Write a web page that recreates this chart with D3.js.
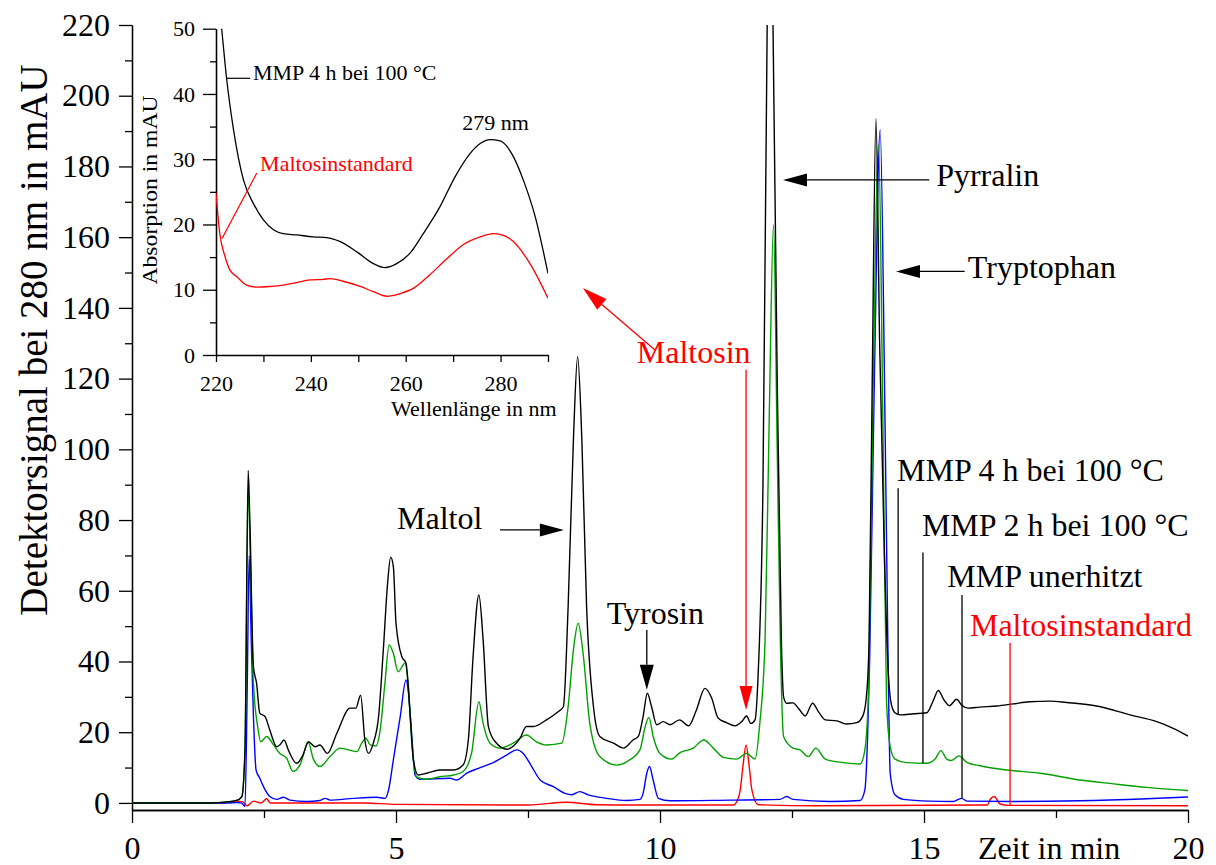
<!DOCTYPE html>
<html>
<head>
<meta charset="utf-8">
<script src="https://cdn.jsdelivr.net/npm/d3@7"></script>
<style>
  body { margin: 0; background: #fff; }
  svg text { font-family: "Liberation Serif", "Times New Roman", serif; }
</style>
</head>
<body>
<svg id="chart" width="1216" height="865" font-family="Liberation Serif, Times New Roman, serif"></svg>
<script>
// ---- Chromatogram traces: [retention time in min, signal in mAU] ----
const mmp4h = [[0,0],[1.5,0],[1.8,0.3],[1.98,0.7],[2.08,1.8],[2.14,15],[2.20,94],[2.23,81],[2.30,38.5],[2.36,33.8],[2.42,25.4],[2.52,24.4],[2.61,20.6],[2.74,15.9],[2.80,16.4],[2.88,17.8],[2.96,15],[3.12,11.2],[3.24,13.6],[3.34,17.3],[3.47,15.9],[3.56,16.4],[3.70,14],[3.88,19.7],[4.13,26.8],[4.24,26.8],[4.33,30.5],[4.41,17.8],[4.48,14],[4.57,16.9],[4.67,24.4],[4.76,43.3],[4.84,62],[4.90,69.5],[4.95,66.8],[5.0,50.8],[5.11,41.4],[5.19,39.5],[5.27,24.4],[5.33,12.2],[5.42,7.9],[5.58,8.4],[5.83,9.3],[6.09,9.3],[6.27,10.7],[6.37,17.8],[6.46,41.4],[6.57,58.8],[6.65,46.1],[6.75,21.6],[6.88,17.3],[7.1,15.2],[7.35,18.3],[7.47,21.6],[7.6,21.6],[7.85,23.5],[8.07,25.8],[8.17,27.2],[8.26,55.5],[8.36,102.7],[8.44,126.2],[8.52,102.7],[8.61,55.5],[8.74,27.2],[8.86,18.8],[9.12,16.9],[9.31,15.5],[9.49,17.8],[9.59,18.8],[9.68,24.4],[9.76,31],[9.84,27.2],[9.94,22.1],[10.06,23],[10.19,22.1],[10.37,23.5],[10.54,21.8],[10.69,26.3],[10.85,32.4],[10.98,29.6],[11.1,24],[11.26,22.7],[11.42,21.8],[11.55,23],[11.64,24.6],[11.72,22.5],[11.8,23.5],[11.86,36.8],[11.95,90],[12.03,220],[12.08,280],[12.14,220],[12.22,120],[12.30,45],[12.34,30],[12.4,28.2],[12.52,28.3],[12.62,26.8],[12.75,24.6],[12.89,28.2],[13.0,25.8],[13.13,23.5],[13.35,23.2],[13.53,22.3],[13.73,22.7],[13.85,24.9],[13.92,32],[13.96,46],[14.02,120],[14.09,193.5],[14.16,130],[14.25,70],[14.32,38],[14.38,28],[14.45,25.5],[14.55,24.9],[14.8,25.2],[15.05,25.5],[15.18,29.1],[15.27,31.8],[15.38,29.1],[15.48,27.5],[15.62,29.3],[15.71,27.7],[15.84,26.8],[16.06,27.1],[16.38,27.4],[16.69,28],[17.0,28.6],[17.39,28.8],[17.7,28.4],[18.27,27.4],[18.9,24.9],[19.41,23],[19.72,21.1],[20,18.9]];

const mmp2h = [[0,0],[1.5,0],[1.8,0.3],[1.98,0.7],[2.08,1.8],[2.14,15],[2.20,89],[2.24,70],[2.30,33.8],[2.38,21.6],[2.44,17.3],[2.55,18.8],[2.68,16.4],[2.80,14],[2.93,12.6],[3.05,8.9],[3.18,10.7],[3.34,17.1],[3.43,12.6],[3.56,10.3],[3.75,13.1],[3.94,15.5],[4.26,14.5],[4.35,16.9],[4.43,18.3],[4.51,16.4],[4.62,16.1],[4.70,20.6],[4.79,33.8],[4.87,44.7],[4.95,42.3],[5.04,37.1],[5.17,39.5],[5.23,33.8],[5.30,16.9],[5.39,7.4],[5.58,6.7],[5.83,7.4],[6.09,7.9],[6.27,8.9],[6.43,14],[6.57,28.6],[6.65,22.5],[6.78,16.9],[6.97,15.5],[7.22,16.9],[7.47,19.2],[7.66,17.3],[7.85,16.4],[8.14,16.9],[8.26,27.2],[8.36,43.3],[8.45,50.8],[8.55,41.4],[8.67,22.5],[8.86,13.1],[9.18,10.7],[9.43,12.2],[9.62,15],[9.72,21.6],[9.79,24.2],[9.87,18.8],[10.0,14],[10.22,12.4],[10.38,14.2],[10.63,15.5],[10.83,17.8],[11.01,15.5],[11.2,12.9],[11.45,12.4],[11.64,14],[11.8,12.4],[11.89,22.5],[11.99,46],[12.07,110],[12.15,163.5],[12.22,100],[12.28,45],[12.34,18.8],[12.52,15.5],[12.65,15],[12.81,13.1],[12.95,15.5],[13.13,12.4],[13.47,11.4],[13.79,11],[13.88,15],[13.95,32],[14.03,110],[14.14,186],[14.22,110],[14.29,29],[14.36,15.9],[14.45,12.4],[14.67,11.4],[15.05,11.2],[15.21,12.4],[15.32,14.8],[15.43,12.4],[15.52,12],[15.66,13.3],[15.82,11.4],[16.06,10.5],[16.57,9.3],[17.2,8.4],[17.95,6.5],[18.59,5.4],[19.22,4.4],[20,3.5]];

const mmpRaw = [[0,0],[1.8,0],[1.98,0.1],[2.07,0],[2.14,-1],[2.18,30],[2.22,70],[2.26,45],[2.30,24.4],[2.35,9.3],[2.42,7],[2.49,4.6],[2.61,1.8],[2.74,1.0],[2.87,1.6],[2.99,0.8],[3.31,0.4],[3.56,0.7],[3.66,1.3],[3.75,0.8],[4.19,1.3],[4.63,1.6],[4.79,1.3],[4.86,3.7],[4.95,12.2],[5.08,24.4],[5.19,34.8],[5.23,32],[5.30,18.8],[5.36,7.9],[5.45,6.7],[6.02,7],[6.15,6.5],[6.34,8.4],[6.56,9.8],[6.84,11.4],[7.1,13.6],[7.29,15],[7.41,14],[7.57,10.3],[7.73,6.5],[7.98,4.6],[8.2,2.7],[8.33,2.3],[8.48,3.2],[8.64,2.3],[8.99,1.3],[9.37,0.7],[9.62,1.0],[9.68,2.7],[9.75,8.4],[9.8,10.3],[9.87,6.5],[9.97,1.3],[10.19,0.6],[11.33,0.8],[12.27,1.0],[12.4,1.8],[12.52,1.0],[13.22,0.4],[13.79,0.7],[13.88,3.7],[13.93,17.8],[13.97,40],[14.06,120],[14.17,190.3],[14.26,110],[14.32,40],[14.36,8.4],[14.45,2.3],[14.61,1.0],[15.11,0.5],[15.55,0.4],[15.71,1.3],[15.82,0.5],[16.69,0.4],[17.95,0.6],[19.22,1.2],[20,1.7]];

const maltosinStd = [[0,0],[1.7,0],[1.98,0.5],[2.1,0.3],[2.18,-0.8],[2.3,0.5],[2.45,0],[2.55,1.2],[2.62,0],[3.5,0],[4.4,0],[5.0,-0.4],[7.5,-0.6],[8.23,0.2],[8.8,-0.5],[9.5,-0.6],[11.4,-0.6],[11.44,0],[11.52,3.7],[11.57,10.3],[11.63,16.4],[11.69,10.3],[11.74,3.7],[11.86,-0.5],[13,-0.8],[16.2,-0.6],[16.26,1.1],[16.33,1.8],[16.44,-0.3],[16.6,-0.7],[20,-0.8]];

// ---- UV spectra (inset): [wavelength in nm, absorption in mAU] ----
const spectrumMMP = [[220.8,53],[221.2,50],[222.2,42.6],[223.7,34.5],[225.8,26.8],[227.9,23.2],[230,20.7],[232.1,19.2],[234.2,18.6],[237,18.4],[240.5,18.1],[243.3,18],[246.1,17.4],[249.7,15.8],[253.2,14],[255.6,13.4],[258.1,14],[260.9,15.6],[263.7,18.6],[267.2,22.7],[270.4,27.3],[273.6,30.9],[275.7,32.4],[277.8,33],[279.9,32.8],[282.7,30.4],[284.8,26.8],[287.3,21.2],[290,12.5]];
const spectrumStd = [[220,24.8],[220.8,18.6],[221.9,15.1],[222.95,13],[224.4,12],[226.5,10.7],[228.6,10.4],[231.4,10.5],[234.2,10.7],[237,11.1],[239.8,11.5],[242.6,11.6],[244,11.7],[246.8,11.3],[250.4,10.5],[253.2,9.7],[256,9],[258.8,9.4],[261.6,10.2],[265.1,12.3],[268.6,14.7],[272.1,16.9],[275.7,18.1],[278.5,18.6],[279.9,18.5],[282.7,17.4],[286.2,14],[290,8.7]];

// ---- Tick values ----
const xTicksMajor = [0, 5, 10, 15, 20];
const xTicksMinor = [2.5, 7.5, 12.5, 17.5];
const yTicksMajor = d3.range(0, 221, 20);
const yTicksMinor = d3.range(10, 220, 20);
const insetXTicks = d3.range(220, 291, 10);
const insetXLabels = [220, 240, 260, 280];
const insetYTicksMajor = d3.range(0, 51, 10);
const insetYTicksMinor = d3.range(5, 50, 10);

const BLACK = "#000", GREEN = "#00a000", BLUE = "#0000ff", RED = "#ff0000";
const SERIF = '"Liberation Serif", "Times New Roman", serif';

const svg = d3.select("#chart");

// ---- Main chromatogram scales ----
const x = d3.scaleLinear().domain([0, 20]).range([132, 1188]);
const y = d3.scaleLinear().domain([-2, 220]).range([810, 25]);

const defs = svg.append("defs");
defs.append("clipPath").attr("id", "mainClip").append("rect")
  .attr("x", 132).attr("y", 25).attr("width", 1056).attr("height", 785);

function styleAxis(g, size) {
  g.attr("font-family", SERIF);
  g.selectAll("path.domain").attr("stroke", "#000").attr("stroke-width", 1.3);
  g.selectAll(".tick line").attr("stroke", "#000").attr("stroke-width", 1.3);
  g.selectAll("text").attr("fill", "#000")
    .attr("font-family", SERIF).style("font-family", SERIF)
    .style("font-size", size + "px");
}

function addText(g, size, color) {
  return g.append("text").attr("fill", color || "#000")
    .attr("font-family", SERIF).style("font-family", SERIF)
    .style("font-size", size + "px");
}

// Y axis (minor then major)
svg.append("g").attr("transform", `translate(${x(0)},0)`)
  .call(d3.axisLeft(y).tickValues(yTicksMinor).tickSize(7).tickSizeOuter(0).tickFormat(""))
  .call(g => styleAxis(g, 32));
svg.append("g").attr("transform", `translate(${x(0)},0)`)
  .call(d3.axisLeft(y).tickValues(yTicksMajor).tickSize(13).tickSizeOuter(0).tickPadding(9).tickFormat(d3.format("d")))
  .call(g => styleAxis(g, 32));

// X axis
svg.append("g").attr("transform", `translate(0,${y(-2)})`)
  .call(d3.axisBottom(x).tickValues(xTicksMinor).tickSize(8).tickSizeOuter(0).tickFormat(""))
  .call(g => styleAxis(g, 32));
svg.append("g").attr("transform", `translate(0,${y(-2)})`)
  .call(d3.axisBottom(x).tickValues(xTicksMajor).tickSize(13).tickSizeOuter(0).tickPadding(13).tickFormat(d3.format("d")))
  .call(g => styleAxis(g, 32));

// Axis titles
addText(svg, 39)
  .attr("transform", "translate(47,340) rotate(-90)")
  .attr("text-anchor", "middle")
  .text("Detektorsignal bei 280 nm in mAU");
addText(svg, 32).attr("x", 978).attr("y", 859).text("Zeit in min");

// Traces
const line = d3.line().x(d => x(d[0])).y(d => y(d[1])).curve(d3.curveMonotoneX);
const traces = svg.append("g").attr("clip-path", "url(#mainClip)");
[[maltosinStd, RED], [mmpRaw, BLUE], [mmp2h, GREEN], [mmp4h, BLACK]].forEach(([data, color]) => {
  traces.append("path").datum(data).attr("d", line)
    .attr("fill", "none").attr("stroke", color).attr("stroke-width", 1.4)
    .attr("stroke-linejoin", "round");
});

// Value of a trace at a given time (linear between readings)
function valueAt(data, t) {
  const i = d3.bisector(d => d[0]).left(data, t);
  if (i <= 0) return data[0][1];
  if (i >= data.length) return data[data.length - 1][1];
  const a = data[i - 1], b = data[i];
  return a[1] + (b[1] - a[1]) * (t - a[0]) / (b[0] - a[0]);
}

// Arrow with filled triangular head at (x2, y2)
function arrow(g, x1, y1, x2, y2, color, len = 24, half = 6.5) {
  const dx = x2 - x1, dy = y2 - y1, L = Math.hypot(dx, dy);
  const ux = dx / L, uy = dy / L;
  const bx = x2 - ux * len, by = y2 - uy * len;
  g.append("line").attr("x1", x1).attr("y1", y1).attr("x2", bx).attr("y2", by)
    .attr("stroke", color).attr("stroke-width", 1.3);
  g.append("path")
    .attr("d", `M${x2},${y2}L${bx - uy * half},${by + ux * half}L${bx + uy * half},${by - ux * half}Z`)
    .attr("fill", color);
}

function label(g, t, v, txt, color, size = 32) {
  addText(g, size, color).attr("x", x(t)).attr("y", y(v)).text(txt);
}

const ann = svg.append("g");
// Peak labels
label(ann, 15.23, 174.5, "Pyrralin", BLACK);
arrow(ann, x(15.1), y(176.2), x(12.33), y(176.2), BLACK);
label(ann, 15.83, 148.5, "Tryptophan", BLACK);
arrow(ann, x(15.77), y(150.3), x(14.47), y(150.3), BLACK);
label(ann, 5.02, 77.5, "Maltol", BLACK);
arrow(ann, x(6.97), y(77.2), x(8.18), y(77.2), BLACK);
label(ann, 8.99, 50.6, "Tyrosin", BLACK);
arrow(ann, x(9.75), y(48.9), x(9.75), y(32), BLACK, 25, 7);
label(ann, 9.56, 124.4, "Maltosin", RED);
arrow(ann, x(9.91), y(128), x(8.54), y(145.6), RED, 25, 7);
arrow(ann, x(11.63), y(122.5), x(11.63), y(26.3), RED, 24, 6.5);

// Trace labels with drop lines to each trace
const traceLabels = [
  { text: "MMP 4 h bei 100 °C", t: 14.49, v: 91.1, lineT: 14.51, lineTop: 89, data: mmp4h, color: BLACK },
  { text: "MMP 2 h bei 100 °C", t: 14.96, v: 75.5, lineT: 14.98, lineTop: 70.8, data: mmp2h, color: BLACK },
  { text: "MMP unerhitzt", t: 15.44, v: 61.1, lineT: 15.72, lineTop: 58.8, data: mmpRaw, color: BLACK },
  { text: "Maltosinstandard", t: 15.87, v: 47.2, lineT: 16.63, lineTop: 45.2, data: maltosinStd, color: RED }
];
traceLabels.forEach(d => {
  label(ann, d.t, d.v, d.text, d.color);
  ann.append("line")
    .attr("x1", x(d.lineT)).attr("x2", x(d.lineT))
    .attr("y1", y(d.lineTop)).attr("y2", y(valueAt(d.data, d.lineT)))
    .attr("stroke", d.color).attr("stroke-width", 1.3);
});

// ---- Inset: UV spectra ----
const xi = d3.scaleLinear().domain([220, 290]).range([216, 548]);
const yi = d3.scaleLinear().domain([0, 50]).range([355, 28.7]);
defs.append("clipPath").attr("id", "insetClip").append("rect")
  .attr("x", 216).attr("y", 28.7).attr("width", 332).attr("height", 326.3);

const inset = svg.append("g");
inset.append("g").attr("transform", `translate(${xi(220)},0)`)
  .call(d3.axisLeft(yi).tickValues(insetYTicksMinor).tickSize(6).tickSizeOuter(0).tickFormat(""))
  .call(g => styleAxis(g, 22));
inset.append("g").attr("transform", `translate(${xi(220)},0)`)
  .call(d3.axisLeft(yi).tickValues(insetYTicksMajor).tickSize(13).tickSizeOuter(0).tickPadding(8).tickFormat(d3.format("d")))
  .call(g => styleAxis(g, 22));
inset.append("g").attr("transform", `translate(0,${yi(0)})`)
  .call(d3.axisBottom(xi).tickValues(insetXTicks).tickSize(7).tickSizeOuter(0).tickPadding(13)
    .tickFormat(d => insetXLabels.includes(d) ? d3.format("d")(d) : ""))
  .call(g => styleAxis(g, 22));

addText(inset, 22)
  .attr("transform", "translate(157,190) rotate(-90)")
  .attr("text-anchor", "middle")
  .attr("textLength", 189).attr("lengthAdjust", "spacingAndGlyphs")
  .text("Absorption in mAU");
addText(inset, 22).attr("x", 391).attr("y", 416).text("Wellenlänge in nm");

const iline = d3.line().x(d => xi(d[0])).y(d => yi(d[1])).curve(d3.curveMonotoneX);
const spectra = inset.append("g").attr("clip-path", "url(#insetClip)");
[[spectrumStd, RED], [spectrumMMP, BLACK]].forEach(([data, color]) => {
  spectra.append("path").datum(data).attr("d", iline)
    .attr("fill", "none").attr("stroke", color).attr("stroke-width", 1.3);
});

function ilabel(nm, v, txt, color) {
  addText(inset, 22, color).attr("x", xi(nm)).attr("y", yi(v)).text(txt);
}
ilabel(227.8, 42.1, "MMP 4 h bei 100 °C", BLACK);
inset.append("line").attr("x1", xi(222.3)).attr("x2", xi(227.2))
  .attr("y1", yi(42.4)).attr("y2", yi(42.4)).attr("stroke", BLACK).attr("stroke-width", 1.2);
ilabel(271.9, 34.5, "279 nm", BLACK);
ilabel(229.3, 28.2, "Maltosinstandard", RED);
inset.append("line").attr("x1", xi(228.6)).attr("y1", yi(27.9))
  .attr("x2", xi(221.3)).attr("y2", yi(17.9)).attr("stroke", RED).attr("stroke-width", 1.2);
</script>
</body>
</html>
